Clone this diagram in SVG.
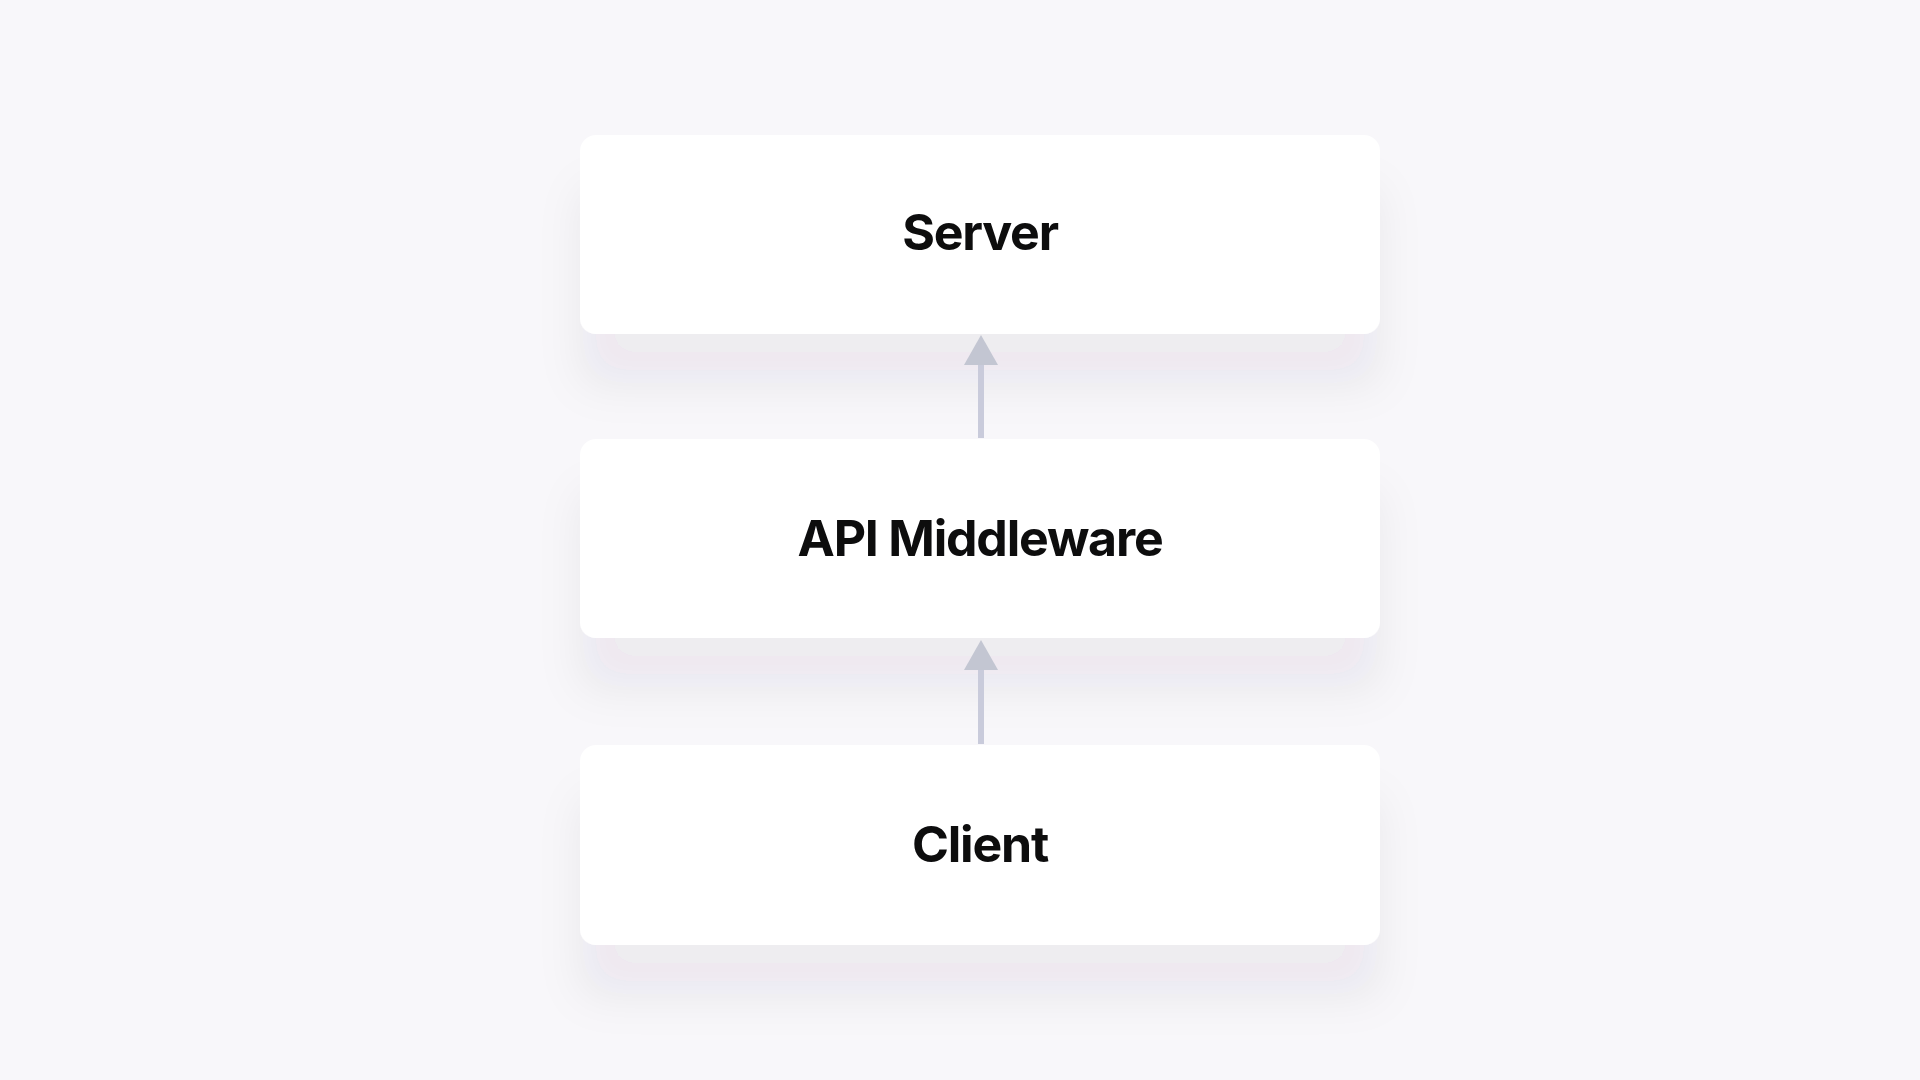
<svg xmlns="http://www.w3.org/2000/svg" width="1920" height="1080" viewBox="0 0 1920 1080">
<defs>
<filter id="sh" x="-20%" y="-30%" width="140%" height="200%">
<feGaussianBlur in="SourceAlpha" stdDeviation="22"/>
<feOffset dx="0" dy="52" result="b"/>
<feFlood flood-color="#3a3445" flood-opacity="0.06"/>
<feComposite in2="b" operator="in"/>
<feMerge><feMergeNode/><feMergeNode in="SourceGraphic"/></feMerge>
</filter>
</defs>
<style>
.box{fill:#ffffff}
.lbl{font-family:Inter,"Liberation Sans",sans-serif;font-weight:700;font-size:50px;letter-spacing:-1.2px;fill:#0b0b0d;text-anchor:middle}
.shaft{stroke:#c9cbdb;stroke-width:6}
.head{fill:#c3c6d2}
</style>
<rect width="1920" height="1080" fill="#f8f7fa"/>
<g id="server" filter="url(#sh)">
<rect class="box" x="580" y="135" width="800" height="199" rx="16"/>
<text class="lbl" x="980" y="250">Server</text>
</g>
<g id="api-middleware" filter="url(#sh)">
<rect class="box" x="580" y="439" width="800" height="199" rx="16"/>
<text class="lbl" x="980" y="556">API Middleware</text>
</g>
<g id="client" filter="url(#sh)">
<rect class="box" x="580" y="745" width="800" height="200" rx="16"/>
<text class="lbl" x="980" y="862">Client</text>
</g>
<g id="connectors">
<line class="shaft" x1="981" y1="438" x2="981" y2="362"/>
<polygon class="head" points="981,335 998,365 964,365"/>
<line class="shaft" x1="981" y1="744" x2="981" y2="667"/>
<polygon class="head" points="981,640 998,670 964,670"/>
</g>
</svg>
